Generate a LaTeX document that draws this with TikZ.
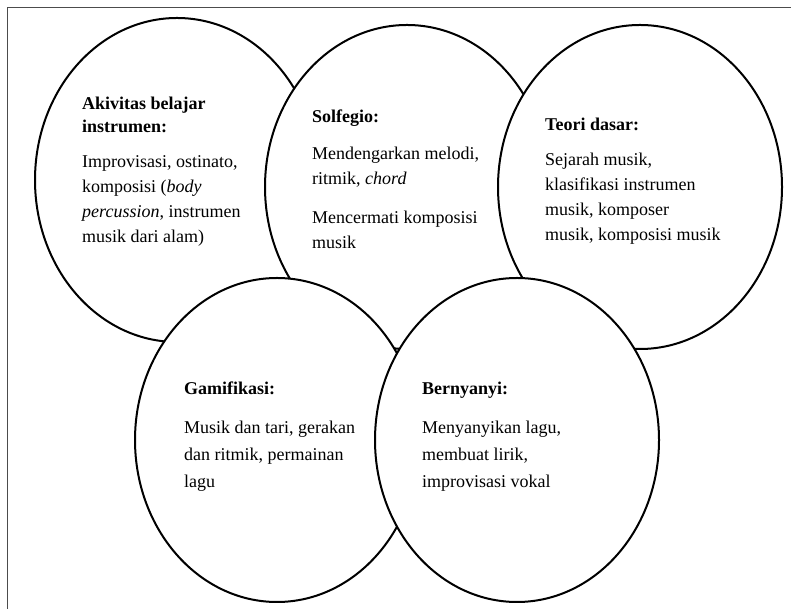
\documentclass[tikz,border=0pt]{standalone}
\usepackage{fontspec}
\setmainfont{Liberation Serif}
\tikzset{txt/.style={anchor=north west,inner sep=0pt,align=left,font=\fontsize{18}{25}\selectfont}}
\begin{document}
\begin{tikzpicture}[x=1pt,y=1pt,line join=round,line cap=round]
\useasboundingbox (0,0) rectangle (791,609);
\draw[gray!60!black,line width=1pt] (7,0)--(7,601)--(791,601);
\coordinate (A) at (177,429);
\coordinate (B) at (407,422);
\coordinate (C) at (640,422);
\coordinate (D) at (277,169);
\coordinate (E) at (517,169);
\foreach \i in {A,B,C,D,E}{\draw[line width=2pt,fill=white](\i) ellipse (142 and 162);}
\node[txt] (tA) at (82,512) {\textbf{Akivitas belajar}\\[-2pt]\textbf{instrumen:}\\[10pt]
Improvisasi, ostinato,\\komposisi (\textit{body}\\\textit{percussion}, instrumen\\musik dari alam)};
\node[txt] (tB) at (312,499) {\textbf{Solfegio:}\\[12pt]Mendengarkan melodi,\\ritmik, \textit{chord}\\[14pt]
Mencermati komposisi\\musik};
\node[txt] (tC) at (545,491) {\textbf{Teori dasar:}\\[10pt]Sejarah musik,\\klasifikasi instrumen\\musik, komposer\\
musik, komposisi musik};
\node[txt] (tD) at (184,227) {\textbf{Gamifikasi:}\\[14pt]Musik dan tari, gerakan\\[2pt]dan ritmik, permainan\\[2pt]lagu};
\node[txt] (tE) at (422,227) {\textbf{Bernyanyi:}\\[14pt]Menyanyikan lagu,\\[2pt]membuat lirik,\\[2pt]improvisasi vokal};
\end{tikzpicture}
\end{document}
